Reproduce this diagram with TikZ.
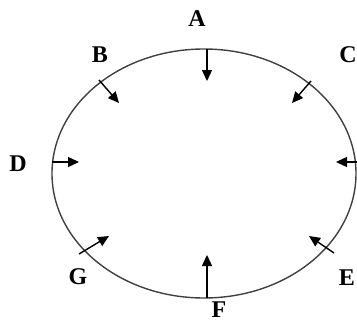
\documentclass[tikz,border=0pt]{standalone}
\usepackage{fontspec}
\setmainfont{Liberation Serif}
\usetikzlibrary{arrows.meta}
\begin{document}
\begin{tikzpicture}[x=1pt,y=-1pt,
  lbl/.style={font=\fontsize{24}{27}\selectfont\bfseries, inner sep=0pt},
  force/.style={line width=1.4pt, -{Triangle[length=11pt,width=10pt]}}]
\useasboundingbox (0,0) rectangle (357,324);
\draw[line width=1.4pt, draw=black!75] (204,173.5) ellipse [x radius=152, y radius=124.5];
\node[lbl] (A) at (197,19) {A};
\node[lbl] (B) at (100,55) {B};
\node[lbl] (C) at (348,55) {C};
\node[lbl] (D) at (18,164) {D};
\node[lbl] (E) at (347,278) {E};
\node[lbl] (F) at (219,310) {F};
\node[lbl] (G) at (78,277) {G};
\coordinate (a0) at (207,49);  \coordinate (a1) at (207,81);
\coordinate (b0) at (99,80);   \coordinate (b1) at (119,103);
\coordinate (c0) at (311,81);  \coordinate (c1) at (292,103);
\coordinate (d0) at (52,162);  \coordinate (d1) at (79,162);
\coordinate (r0) at (358,162); \coordinate (r1) at (336,162);
\coordinate (g0) at (79,254);  \coordinate (g1) at (109,236);
\coordinate (e0) at (334,253); \coordinate (e1) at (309,236);
\coordinate (f0) at (207,298); \coordinate (f1) at (207,255);
\foreach \s/\t in {a0/a1,b0/b1,c0/c1,d0/d1,r0/r1,g0/g1,e0/e1,f0/f1}
  \draw[force] (\s) -- (\t);
\end{tikzpicture}
\end{document}
